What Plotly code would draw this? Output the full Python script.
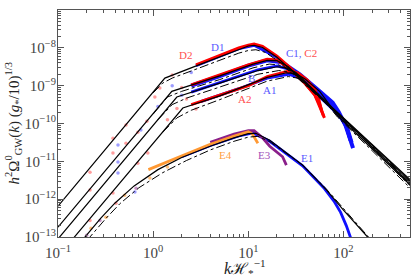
import numpy as np
import plotly.graph_objects as go

# ---------------- model curves: solid black ----------------
D_fit_k = [0.1, 1.327, 3.162, 7.94, 10.0, 11.5, 14.1, 20.0, 34.7, 87.1, 200, 500]
D_fit_h = [6.53e-13, 1.585e-9, 3.72e-9, 9.12e-9, 1.12e-8, 1.17e-8, 1.02e-8, 5.62e-9, 1.58e-9, 1.91e-10, 2.69e-11, 3.02e-12]
C_fit_k = [0.1, 1.57, 5.01, 11.2, 15.8, 20.0, 26.3, 39.8, 87.1, 200, 500]
C_fit_h = [1.82e-13, 7.08e-10, 1.82e-9, 3.72e-9, 4.68e-9, 4.57e-9, 3.16e-9, 1.20e-9, 2.0e-10, 2.82e-11, 3.31e-12]
B_fit_k = [0.1, 1.774, 5.01, 12.6, 20.0, 25.1, 31.6, 44.7, 87.1, 200, 500]
B_fit_h = [8.91e-14, 5.01e-10, 1.17e-9, 2.51e-9, 3.16e-9, 2.95e-9, 2.24e-9, 9.55e-10, 1.78e-10, 2.40e-11, 2.63e-12]
A_fit_k = [0.141, 2.05, 5.01, 15.8, 25.1, 31.6, 39.8, 56.2, 87.1, 200, 500]
A_fit_h = [8.51e-14, 2.57e-10, 5.37e-10, 1.66e-9, 2.19e-9, 2.09e-9, 1.48e-9, 7.08e-10, 1.58e-10, 2.19e-11, 2.40e-12]
E_fit_k = [0.178, 0.282, 0.398, 0.631, 1.122, 1.995, 3.98, 7.08, 10.0, 12.0, 16.8, 25.1, 37.2, 66.5, 100, 179, 224]
E_fit_h = [7.94e-14, 3.16e-13, 7.94e-13, 2.24e-12, 6.03e-12, 1.26e-11, 2.51e-11, 4.17e-11, 5.37e-11, 5.50e-11, 3.63e-11, 1.66e-11, 7.94e-12, 1.74e-12, 5.13e-13, 1.0e-13, 5.0e-14]

# ---------------- model curves: dash-dot black ----------------
D_ssm_k = [1.0, 1.259, 1.585, 3.162, 7.94, 10.0, 12.0, 15.1, 20.0, 34.7, 87.1, 200, 500]
D_ssm_h = [6.46e-10, 1.17e-9, 1.585e-9, 3.02e-9, 7.24e-9, 8.51e-9, 8.91e-9, 7.59e-9, 4.68e-9, 1.41e-9, 1.74e-10, 2.40e-11, 2.51e-12]
C_ssm_k = [1.0, 1.413, 1.995, 5.01, 11.2, 16.6, 20.9, 28.2, 39.8, 87.1, 200, 500]
C_ssm_h = [1.78e-10, 5.01e-10, 7.08e-10, 1.45e-9, 2.95e-9, 3.72e-9, 3.55e-9, 2.40e-9, 1.07e-9, 1.82e-10, 2.51e-11, 2.82e-12]
B_ssm_k = [1.122, 1.585, 2.239, 5.01, 12.6, 20.9, 26.3, 33.1, 44.7, 87.1, 200, 500]
B_ssm_h = [1.26e-10, 3.16e-10, 4.68e-10, 9.33e-10, 2.0e-9, 2.51e-9, 2.34e-9, 1.78e-9, 8.51e-10, 1.58e-10, 2.14e-11, 2.29e-12]
A_ssm_k = [1.259, 1.778, 2.512, 5.01, 15.8, 26.3, 33.1, 41.7, 56.2, 87.1, 200, 500]
A_ssm_h = [5.89e-11, 1.41e-10, 2.24e-10, 4.27e-10, 1.32e-9, 1.74e-9, 1.58e-9, 1.12e-9, 5.62e-10, 1.45e-10, 1.91e-11, 2.0e-12]
E_ssm_k = [0.2, 0.316, 0.447, 0.708, 1.259, 2.239, 3.98, 7.08, 10.0, 12.6, 16.8, 25.1, 37.2, 66.5, 100, 186, 224]
E_ssm_h = [7.94e-14, 3.02e-13, 7.59e-13, 2.0e-12, 5.01e-12, 1.05e-11, 2.0e-11, 3.39e-11, 4.37e-11, 4.57e-11, 3.31e-11, 1.62e-11, 7.94e-12, 1.82e-12, 5.62e-13, 1.0e-13, 5.62e-14]

# ---------------- simulation data (thick coloured) ----------------
D1_k = [2.818, 7.94, 11.5, 20.0, 39.8, 87.1, 110, 123]
D1_h = [3.39e-9, 9.55e-9, 1.17e-8, 5.62e-9, 1.17e-9, 1.78e-10, 7.94e-11, 3.16e-11]
D2_k = [2.818, 5.01, 7.94, 10.0, 11.5, 14.1, 20.0, 28.2, 39.8, 50.1, 56.2, 61.7]
D2_h = [3.55e-9, 6.31e-9, 1.0e-8, 1.17e-8, 1.26e-8, 1.10e-8, 6.03e-9, 2.82e-9, 1.12e-9, 5.62e-10, 3.16e-10, 1.58e-10]
C1_k = [2.512, 5.01, 10.0, 15.8, 22.4, 34.7, 56.2, 76.9, 89.1, 105, 117, 126]
C1_h = [1.0e-9, 1.78e-9, 3.39e-9, 4.68e-9, 4.17e-9, 2.0e-9, 7.08e-10, 3.55e-10, 2.0e-10, 8.91e-11, 3.98e-11, 2.24e-11]
C2_k = [2.512, 5.01, 10.0, 15.8, 20.0, 28.2, 39.8, 50.1, 57.5, 63.1]
C2_h = [1.05e-9, 1.91e-9, 3.55e-9, 5.01e-9, 4.79e-9, 2.63e-9, 1.12e-9, 5.62e-10, 2.51e-10, 1.41e-10]
B_k = [2.512, 6.31, 12.6, 20.0, 28.2, 39.8, 63.1, 87.1, 107, 117]
B_h = [6.76e-10, 1.48e-9, 2.63e-9, 3.31e-9, 2.63e-9, 1.41e-9, 5.01e-10, 2.09e-10, 7.94e-11, 3.55e-11]
A1_k = [3.162, 7.94, 15.8, 26.3, 35.5, 56.2, 87.1, 105, 115]
A1_h = [3.80e-10, 8.32e-10, 1.58e-9, 2.0e-9, 1.58e-9, 6.31e-10, 2.0e-10, 8.91e-11, 4.47e-11]
A2_k = [2.512, 5.01, 10.0, 15.8, 26.3, 33.1, 41.7, 50.1, 55.0, 58.9]
A2_h = [3.16e-10, 5.62e-10, 1.0e-9, 1.74e-9, 2.40e-9, 2.19e-9, 1.41e-9, 7.94e-10, 4.47e-10, 2.24e-10]
E1_k = [1.995, 3.98, 7.94, 11.2, 16.8, 25.1, 37.2, 63.1, 79.4, 93.3, 107, 120]
E1_h = [1.32e-11, 2.63e-11, 4.68e-11, 5.62e-11, 3.39e-11, 1.58e-11, 7.59e-12, 1.91e-12, 8.91e-13, 4.47e-13, 2.0e-13, 8.91e-14]
E3_k = [3.98, 7.08, 10.0, 11.5, 14.1, 16.8, 22.9, 25.1]
E3_h = [3.16e-11, 5.25e-11, 6.46e-11, 6.46e-11, 4.17e-11, 2.51e-11, 1.32e-11, 7.94e-12]
E4_k = [0.891, 1.995, 3.98, 7.08, 8.91, 10.0, 11.0, 12.0, 12.6]
E4_h = [6.03e-12, 1.41e-11, 2.82e-11, 4.68e-11, 5.62e-11, 6.03e-11, 5.37e-11, 3.80e-11, 3.02e-11]

# ---------------- faint low-k data points ----------------
red_dots_k = [0.217, 0.217, 0.217, 0.378, 0.378, 0.378, 0.406, 0.518, 0.518, 0.690, 0.690, 0.859, 0.879, 1.175, 1.042, 1.585, 1.995, 2.239, 1.778, 1.413, 2.818]
red_dots_h = [5.13e-12, 1.74e-12, 2.75e-13, 4.07e-11, 1.66e-11, 1.45e-12, 7.76e-13, 9.12e-11, 3.02e-11, 5.89e-11, 8.91e-12, 1.15e-10, 1.66e-11, 8.71e-10, 5.01e-10, 1.91e-9, 8.91e-10, 4.47e-10, 2.51e-10, 1.26e-10, 2.40e-10]
blue_dots_k = [0.427, 0.427, 0.427, 0.743, 0.643, 1.122, 1.585, 1.995, 2.512]
blue_dots_h = [2.69e-11, 9.55e-12, 4.90e-12, 6.76e-11, 1.55e-12, 2.82e-10, 1.0e-9, 5.62e-10, 2.24e-9]
orange_dots_k = [0.319, 0.222, 0.923, 0.501, 1.413]
orange_dots_h = [3.31e-13, 1.70e-13, 3.63e-12, 1.26e-12, 7.08e-12]
purple_dots_k = [0.276, 0.661, 0.2]
purple_dots_h = [2.75e-13, 1.95e-12, 1.12e-13]

# ---------------- labels ----------------
label_text = ["D2", "D1", "B", "A1", "A2", "E4", "E3", "E1"]
label_k = [2.2, 4.8, 10.9, 16.8, 9.2, 5.8, 14.9, 41.0]
label_h = [6.4e-9, 1.05e-8, 1.6e-9, 7.6e-10, 4.5e-10, 1.45e-11, 1.45e-11, 1.2e-11]
label_color = ["#ff5050", "#5a5aff", "#5a5aff", "#5a5aff", "#ff5050", "#ffa040", "#a050b8", "#5a5aff"]
C_label_k, C_label_h = 36.0, 7.2e-9

x_ticks = [0.1, 1, 10, 100]
x_ticktext = ["10<sup>−1</sup>", "10<sup>0</sup>", "10<sup>1</sup>", "10<sup>2</sup>"]
y_ticks = [1e-13, 1e-12, 1e-11, 1e-10, 1e-9, 1e-8, 1e-7]
y_ticktext = ["10<sup>−13</sup>", "10<sup>−12</sup>", "10<sup>−11</sup>", "10<sup>−10</sup>",
              "10<sup>−9</sup>", "10<sup>−8</sup>", "10<sup>−7</sup>"]

RED, BLUE, ORANGE, PURPLE = "#ff0000", "#1010ff", "#ff9933", "#8a1f8a"

fig = go.Figure()

def dots(k, h, color):
    fig.add_trace(go.Scatter(x=k, y=h, mode="markers",
                             marker=dict(size=3.5, color=color, line=dict(width=0)),
                             showlegend=False, hoverinfo="skip"))

dots(red_dots_k, red_dots_h, "rgba(255,60,60,0.5)")
dots(blue_dots_k, blue_dots_h, "rgba(60,60,255,0.5)")
dots(orange_dots_k, orange_dots_h, "rgba(255,150,40,0.6)")
dots(purple_dots_k, purple_dots_h, "rgba(140,40,140,0.5)")

def data_line(k, h, color, w=2.8):
    fig.add_trace(go.Scatter(x=k, y=h, mode="lines", line=dict(color=color, width=w),
                             showlegend=False, hoverinfo="skip"))

data_line(D1_k, D1_h, BLUE, 3)
data_line(C1_k, C1_h, BLUE, 4)
data_line(B_k, B_h, BLUE, 2.8)
data_line(A1_k, A1_h, BLUE, 2.8)
data_line(E1_k, E1_h, BLUE, 2.8)
data_line(D2_k, D2_h, RED, 3)
data_line(C2_k, C2_h, RED, 3)
data_line(A2_k, A2_h, RED, 2.8)
data_line(E3_k, E3_h, PURPLE, 2.8)
data_line(E4_k, E4_h, ORANGE, 2.8)

def model(k, h, dash):
    fig.add_trace(go.Scatter(x=k, y=h, mode="lines",
                             line=dict(color="black", width=1.2 if dash == "solid" else 1.0, dash=dash),
                             showlegend=False, hoverinfo="skip"))

for k, h in [(D_ssm_k, D_ssm_h), (C_ssm_k, C_ssm_h), (B_ssm_k, B_ssm_h), (A_ssm_k, A_ssm_h), (E_ssm_k, E_ssm_h)]:
    model(k, h, "dashdot")
for k, h in [(D_fit_k, D_fit_h), (C_fit_k, C_fit_h), (B_fit_k, B_fit_h), (A_fit_k, A_fit_h), (E_fit_k, E_fit_h)]:
    model(k, h, "solid")

SERIF = "Liberation Serif, DejaVu Serif, serif"
for t, k, h, c in zip(label_text, label_k, label_h, label_color):
    fig.add_annotation(x=np.log10(k), y=np.log10(h), text=t, showarrow=False,
                       font=dict(family=SERIF, size=11, color=c))
fig.add_annotation(x=np.log10(C_label_k), y=np.log10(C_label_h), showarrow=False,
                   text="<span style='color:#5a5aff'>C1,</span> <span style='color:#ff5050'>C2</span>",
                   font=dict(family=SERIF, size=11))

fig.add_annotation(xref="paper", yref="paper", x=-0.128, y=0.5, xanchor="center", yanchor="middle",
                   textangle=-90, showarrow=False,
                   text="<i>h</i><sup>2</sup>Ω<sup>0</sup><sub>GW</sub>(<i>k</i>) (<i>g</i><sub>*</sub>/10)<sup>1/3</sup>",
                   font=dict(family=SERIF, size=15, color="#222"))
fig.add_annotation(xref="paper", yref="paper", x=0.531, y=-0.137, xanchor="center", yanchor="middle",
                   showarrow=False,
                   text="<i>k</i>ℋ<sub>*</sub><sup>−1</sup>",
                   font=dict(family=SERIF, size=16, color="#222"))

minor_x = [m * 10.0 ** e for e in range(-1, 3) for m in range(2, 10) if m * 10.0 ** e <= 500]
minor_y = [m * 10.0 ** e for e in range(-13, -7) for m in range(2, 10)]

axis_common = dict(type="log", showgrid=False, zeroline=False, showline=True, linecolor="#555",
                   linewidth=1, mirror="allticks", ticks="inside", ticklen=6, tickcolor="#555",
                   automargin=False,
                   tickfont=dict(family=SERIF, size=15, color="#444"))
fig.update_xaxes(range=[-1, np.log10(500)], tickmode="array", tickvals=x_ticks, ticktext=x_ticktext,
                 ticklabelstandoff=2,
                 minor=dict(ticks="inside", ticklen=3, tickcolor="#555", tickmode="array", tickvals=minor_x),
                 **axis_common)
fig.update_yaxes(range=[-13, -7], tickmode="array", tickvals=y_ticks, ticktext=y_ticktext,
                 ticklabelstandoff=-2,
                 minor=dict(ticks="inside", ticklen=3, tickcolor="#555", tickmode="array", tickvals=minor_y),
                 **axis_common)

fig.update_layout(width=415, height=278, margin=dict(l=58, r=5, t=10, b=41),
                  paper_bgcolor="white", plot_bgcolor="white", showlegend=False)

fig.write_html("out.html", config={"displayModeBar": False},
               post_script="document.body.style.margin='0';document.body.style.overflow='hidden';")
